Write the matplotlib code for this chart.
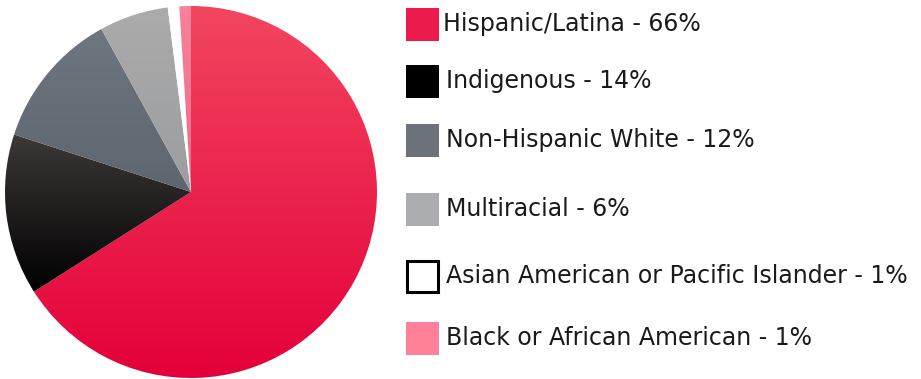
import matplotlib.pyplot as plt
import matplotlib.colors as mcolors
from matplotlib.patches import Rectangle
import numpy as np

# Enrollment breakdown
labels = [
    "Hispanic/Latina",
    "Indigenous",
    "Non-Hispanic White",
    "Multiracial",
    "Asian American or Pacific Islander",
    "Black or African American",
]
shares = [66, 14, 12, 6, 1, 1]

# (top colour, bottom colour) for each slice, legend swatch colour
grad_top = ["#f2465f", "#3e3838", "#6e777f", "#ababab", "#ffffff", "#f7829a"]
grad_bottom = ["#e4003a", "#000000", "#5d666e", "#9c9da0", "#ffffff", "#f06a86"]
swatch = ["#ed1b4c", "#000000", "#6c727a", "#acadb1", "#ffffff", "#fd8299"]

W, H = 921, 379
fig = plt.figure(figsize=(W / 100, H / 100), dpi=100)

# pie axes, placed in pixel terms
cx, cy, r = 191, 192, 186
ax = fig.add_axes([(cx - r) / W, (H - cy - r) / H, 2 * r / W, 2 * r / H])
wedges, _ = ax.pie(shares, startangle=90, counterclock=False, radius=1,
                   wedgeprops=dict(linewidth=0))

# vertical gradient fill clipped to each wedge
for w, c0, c1 in zip(wedges, grad_top, grad_bottom):
    ys = w.get_path().vertices[:, 1]
    y0, y1 = ys.min(), ys.max()
    cmap = mcolors.LinearSegmentedColormap.from_list("g", [c1, c0])
    grad = np.linspace(0, 1, 256).reshape(-1, 1)
    im = ax.imshow(grad, cmap=cmap, origin="lower", aspect="auto",
                   extent=(-1, 1, y0, y1), zorder=2)
    im.set_clip_path(w)
    w.set_facecolor("none")
ax.set_xlim(-1, 1)
ax.set_ylim(-1, 1)
ax.set_aspect("equal")
ax.axis("off")

# legend drawn by hand
row_y = [24.5, 81, 140, 209, 276, 338]
sq = 33
for i, (lab, pct) in enumerate(zip(labels, shares)):
    y = row_y[i]
    boxed = swatch[i] == "#ffffff"
    pad = 1 if boxed else 0
    fig.patches.append(Rectangle(((406 + pad) / W, (H - y - sq / 2 + pad) / H),
                                 (sq - 2 * pad) / W, (sq - 2 * pad) / H,
                                 transform=fig.transFigure, facecolor=swatch[i],
                                 edgecolor="black" if boxed else "none",
                                 linewidth=2.2 if boxed else 0))
    tx = 443 if i == 0 else 446
    fig.text(tx / W, (H - y) / H, f"{lab} - {pct}%", fontsize=17,
             family="DejaVu Sans", color="#1a1a1a", va="center", ha="left")

fig.savefig("out.png", dpi=100)
